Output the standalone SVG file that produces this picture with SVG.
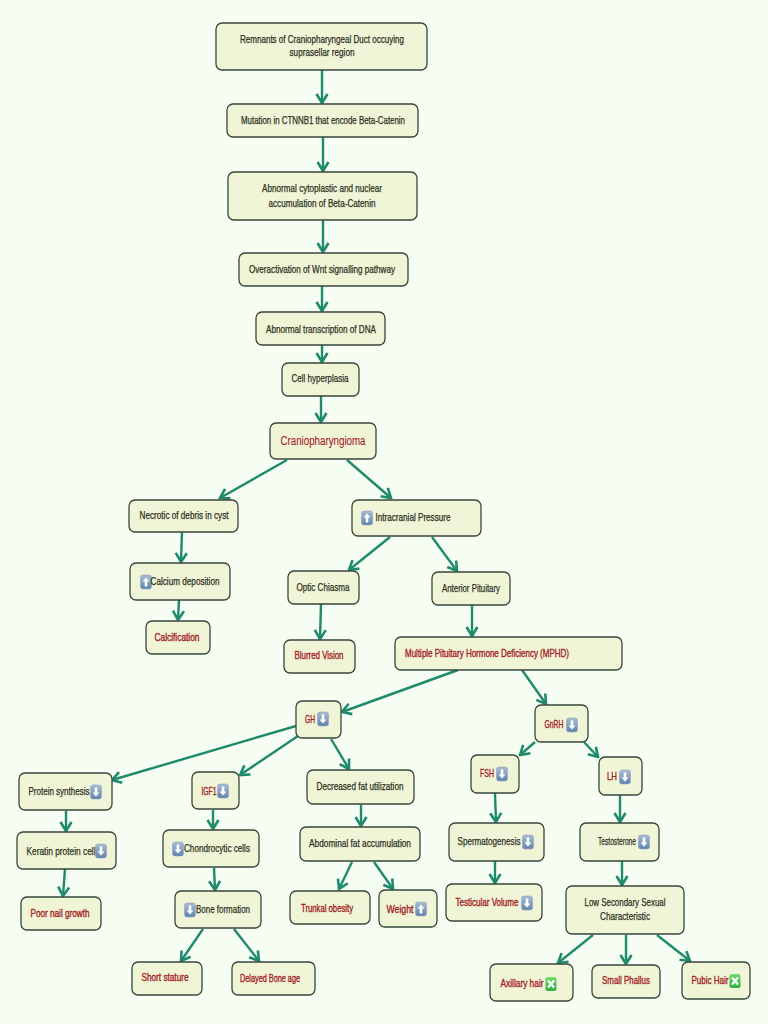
<svg xmlns="http://www.w3.org/2000/svg" width="768" height="1024" viewBox="0 0 768 1024">
<style>
.n{fill:#f1f5d8;stroke:#37473a;stroke-width:1.3}
.t{font-family:"Liberation Sans",Arial,sans-serif;font-size:10.5px;fill:#2a2f20;text-anchor:middle;stroke:#2a2f20;stroke-width:.25}
.s{font-family:"Liberation Sans",Arial,sans-serif;font-size:10.5px;fill:#a3201f;text-anchor:middle;stroke:#a3201f;stroke-width:.35}
.c path{fill:none;stroke:#1f8a6c;stroke-width:2.4}
</style>
<defs>
<linearGradient id="bg" x1="0" y1="0" x2="0" y2="1"><stop offset="0" stop-color="#a9bdd6"/><stop offset="1" stop-color="#5f83ad"/></linearGradient>
<linearGradient id="gg" x1="0" y1="0" x2="0" y2="1"><stop offset="0" stop-color="#6fdc6f"/><stop offset="1" stop-color="#2fae3f"/></linearGradient>
<marker id="a" markerUnits="userSpaceOnUse" markerWidth="14" markerHeight="14" refX="12" refY="7" orient="auto" viewBox="0 0 14 14"><path d="M3 1.5L12 7L3 12.5" fill="none" stroke="#1f8a6c" stroke-width="2.6"/></marker>
<g id="up"><rect x="-5.5" y="-7" width="11" height="14" rx="2.5" fill="url(#bg)" stroke="#8fa3b8" stroke-width=".6"/><path d="M0-4.5L3.5-.5H1.3V4.5H-1.3V-.5H-3.5Z" fill="#fff"/></g>
<g id="dn"><rect x="-5.5" y="-7" width="11" height="14" rx="2.5" fill="url(#bg)" stroke="#8fa3b8" stroke-width=".6"/><path d="M0 4.5L3.5 .5H1.3V-4.5H-1.3V.5H-3.5Z" fill="#fff"/></g>
<g id="x"><rect x="-5.5" y="-7" width="11" height="14" rx="2.5" fill="url(#gg)"/><path d="M-3-3.5L3 3.5M3-3.5L-3 3.5" stroke="#fff" stroke-width="2.2"/></g>
</defs>
<rect width="768" height="1024" fill="#f6fdf2"/>
<g id="connectors" class="c">
<path marker-end="url(#a)" d="M322 70V103"/>
<path marker-end="url(#a)" d="M323 137V171"/>
<path marker-end="url(#a)" d="M323 220V252"/>
<path marker-end="url(#a)" d="M322 286V311"/>
<path marker-end="url(#a)" d="M322 345V362"/>
<path marker-end="url(#a)" d="M321 396V422"/>
<path marker-end="url(#a)" d="M287 460L220 498"/>
<path marker-end="url(#a)" d="M347 460L391 498"/>
<path marker-end="url(#a)" d="M182 532L181 562"/>
<path marker-end="url(#a)" d="M179 600L178 620"/>
<path marker-end="url(#a)" d="M390 537L349 570"/>
<path marker-end="url(#a)" d="M432 537L457 571"/>
<path marker-end="url(#a)" d="M321 604L320 639"/>
<path marker-end="url(#a)" d="M472 605V636"/>
<path marker-end="url(#a)" d="M458 670L342 712"/>
<path marker-end="url(#a)" d="M522 670L546 704"/>
<path marker-end="url(#a)" d="M296 726L112 780"/>
<path marker-end="url(#a)" d="M298 736L240 775"/>
<path marker-end="url(#a)" d="M331 739L349 769"/>
<path marker-end="url(#a)" d="M535 742L520 755"/>
<path marker-end="url(#a)" d="M584 742L598 757"/>
<path marker-end="url(#a)" d="M66 811V831"/>
<path marker-end="url(#a)" d="M213 810V829"/>
<path marker-end="url(#a)" d="M361 805V826"/>
<path marker-end="url(#a)" d="M495 793L496 822"/>
<path marker-end="url(#a)" d="M620 795V822"/>
<path marker-end="url(#a)" d="M65 869L63 896"/>
<path marker-end="url(#a)" d="M214 868L215 890"/>
<path marker-end="url(#a)" d="M352 862L339 889"/>
<path marker-end="url(#a)" d="M374 862L393 889"/>
<path marker-end="url(#a)" d="M495 861V883"/>
<path marker-end="url(#a)" d="M622 861V885"/>
<path marker-end="url(#a)" d="M203 929L181 961"/>
<path marker-end="url(#a)" d="M234 929L259 961"/>
<path marker-end="url(#a)" d="M593 935L558 963"/>
<path marker-end="url(#a)" d="M626 935V964"/>
<path marker-end="url(#a)" d="M657 935L690 961"/>
</g>
<g id="n1"><rect class="n" x="216" y="23" width="211" height="47" rx="6"/><text class="t" x="322" y="43" textLength="164" lengthAdjust="spacingAndGlyphs">Remnants of Craniopharyngeal Duct occuying</text><text class="t" x="322" y="56" textLength="65" lengthAdjust="spacingAndGlyphs">suprasellar region</text></g>
<g id="n2"><rect class="n" x="227" y="104" width="191" height="33" rx="6"/><text class="t" x="323" y="124" textLength="164" lengthAdjust="spacingAndGlyphs">Mutation in CTNNB1 that encode Beta-Catenin</text></g>
<g id="n3"><rect class="n" x="228" y="172" width="189" height="48" rx="6"/><text class="t" x="322" y="192" textLength="120" lengthAdjust="spacingAndGlyphs">Abnormal cytoplastic and nuclear</text><text class="t" x="322" y="207" textLength="107" lengthAdjust="spacingAndGlyphs">accumulation of Beta-Catenin</text></g>
<g id="n4"><rect class="n" x="239" y="253" width="169" height="33" rx="6"/><text class="t" x="322" y="273" textLength="146" lengthAdjust="spacingAndGlyphs">Overactivation of Wnt signalling pathway</text></g>
<g id="n5"><rect class="n" x="256" y="312" width="129" height="33" rx="6"/><text class="t" x="321" y="333" textLength="110" lengthAdjust="spacingAndGlyphs">Abnormal transcription of DNA</text></g>
<g id="n6"><rect class="n" x="282" y="363" width="77" height="33" rx="6"/><text class="t" x="320" y="382" textLength="57" lengthAdjust="spacingAndGlyphs">Cell hyperplasia</text></g>
<g id="n7"><rect class="n" x="270" y="423" width="106" height="36" rx="6"/><text class="s" style="stroke-width:.1;font-size:12.5px" x="323" y="445" textLength="85" lengthAdjust="spacingAndGlyphs">Craniopharyngioma</text></g>
<g id="n8"><rect class="n" x="129" y="500" width="109" height="32" rx="6"/><text class="t" x="184" y="519" textLength="89" lengthAdjust="spacingAndGlyphs">Necrotic of debris in cyst</text></g>
<g id="n9"><rect class="n" x="352" y="500" width="129" height="36" rx="6"/><use href="#up" x="367" y="518"/><text class="t" x="413" y="521" textLength="75" lengthAdjust="spacingAndGlyphs">Intracranial Pressure</text></g>
<g id="n10"><rect class="n" x="130" y="563" width="100" height="37" rx="6"/><use href="#up" x="146" y="582"/><text class="t" x="185" y="585" textLength="69" lengthAdjust="spacingAndGlyphs">Calcium deposition</text></g>
<g id="n11"><rect class="n" x="146" y="621" width="64" height="33" rx="6"/><text class="s" x="177" y="641" textLength="45" lengthAdjust="spacingAndGlyphs">Calcification</text></g>
<g id="n12"><rect class="n" x="288" y="571" width="71" height="33" rx="6"/><text class="t" x="323" y="591" textLength="53" lengthAdjust="spacingAndGlyphs">Optic Chiasma</text></g>
<g id="n13"><rect class="n" x="432" y="572" width="78" height="33" rx="6"/><text class="t" x="471" y="592" textLength="58" lengthAdjust="spacingAndGlyphs">Anterior Pituitary</text></g>
<g id="n14"><rect class="n" x="284" y="640" width="71" height="33" rx="6"/><text class="s" x="319" y="659" textLength="49" lengthAdjust="spacingAndGlyphs">Blurred Vision</text></g>
<g id="n15"><rect class="n" x="395" y="637" width="227" height="33" rx="6"/><text class="s" x="487" y="657" textLength="164" lengthAdjust="spacingAndGlyphs">Multiple Pituitary Hormone Deficiency (MPHD)</text></g>
<g id="n16"><rect class="n" x="296" y="701" width="45" height="37" rx="6"/><text class="s" x="310" y="723" textLength="10" lengthAdjust="spacingAndGlyphs">GH</text><use href="#dn" x="323" y="719"/></g>
<g id="n17"><rect class="n" x="535" y="705" width="53" height="37" rx="6"/><text class="s" x="554" y="728" textLength="19" lengthAdjust="spacingAndGlyphs">GnRH</text><use href="#dn" x="572" y="725"/></g>
<g id="n18"><rect class="n" x="19" y="773" width="93" height="37" rx="6"/><text class="t" x="59" y="795" textLength="61" lengthAdjust="spacingAndGlyphs">Protein synthesis</text><use href="#dn" x="96" y="792"/></g>
<g id="n19"><rect class="n" x="192" y="772" width="47" height="37" rx="6"/><text class="s" x="209" y="795" textLength="15" lengthAdjust="spacingAndGlyphs">IGF1</text><use href="#dn" x="223" y="791"/></g>
<g id="n20"><rect class="n" x="307" y="770" width="107" height="34" rx="6"/><text class="t" x="360" y="790" textLength="87" lengthAdjust="spacingAndGlyphs">Decreased fat utilization</text></g>
<g id="n21"><rect class="n" x="471" y="755" width="48" height="38" rx="6"/><text class="s" x="487" y="777" textLength="14" lengthAdjust="spacingAndGlyphs">FSH</text><use href="#dn" x="502" y="774"/></g>
<g id="n22"><rect class="n" x="599" y="757" width="43" height="38" rx="6"/><text class="s" x="612" y="780" textLength="10" lengthAdjust="spacingAndGlyphs">LH</text><use href="#dn" x="625" y="777"/></g>
<g id="n23"><rect class="n" x="17" y="832" width="99" height="37" rx="6"/><text class="t" x="61" y="855" textLength="69" lengthAdjust="spacingAndGlyphs">Keratin protein cell</text><use href="#dn" x="101" y="851"/></g>
<g id="n24"><rect class="n" x="163" y="830" width="96" height="37" rx="6"/><use href="#dn" x="178" y="849"/><text class="t" x="217" y="852" textLength="66" lengthAdjust="spacingAndGlyphs">Chondrocytic cells</text></g>
<g id="n25"><rect class="n" x="300" y="827" width="120" height="34" rx="6"/><text class="t" x="360" y="847" textLength="102" lengthAdjust="spacingAndGlyphs">Abdominal fat accumulation</text></g>
<g id="n26"><rect class="n" x="449" y="823" width="95" height="38" rx="6"/><text class="t" x="489" y="845" textLength="63" lengthAdjust="spacingAndGlyphs">Spermatogenesis</text><use href="#dn" x="528" y="842"/></g>
<g id="n27"><rect class="n" x="580" y="823" width="79" height="38" rx="6"/><text class="t" x="617" y="845" textLength="38" lengthAdjust="spacingAndGlyphs">Testosterone</text><use href="#dn" x="644" y="842"/></g>
<g id="n28"><rect class="n" x="21" y="897" width="80" height="33" rx="6"/><text class="s" x="60" y="917" textLength="59" lengthAdjust="spacingAndGlyphs">Poor nail growth</text></g>
<g id="n29"><rect class="n" x="175" y="891" width="86" height="37" rx="6"/><use href="#dn" x="190" y="910"/><text class="t" x="223" y="913" textLength="54" lengthAdjust="spacingAndGlyphs">Bone formation</text></g>
<g id="n30"><rect class="n" x="290" y="891" width="80" height="33" rx="6"/><text class="s" x="327" y="912" textLength="52" lengthAdjust="spacingAndGlyphs">Trunkal obesity</text></g>
<g id="n31"><rect class="n" x="379" y="890" width="58" height="37" rx="6"/><text class="s" x="400" y="913" textLength="27" lengthAdjust="spacingAndGlyphs">Weight</text><use href="#up" x="421" y="909"/></g>
<g id="n32"><rect class="n" x="446" y="884" width="96" height="37" rx="6"/><text class="s" x="487" y="906" textLength="63" lengthAdjust="spacingAndGlyphs">Testicular Volume</text><use href="#dn" x="527" y="903"/></g>
<g id="n33"><rect class="n" x="566" y="886" width="118" height="48" rx="6"/><text class="t" x="625" y="906" textLength="81" lengthAdjust="spacingAndGlyphs">Low Secondary Sexual</text><text class="t" x="625" y="920" textLength="50" lengthAdjust="spacingAndGlyphs">Characteristic</text></g>
<g id="n34"><rect class="n" x="132" y="962" width="70" height="33" rx="6"/><text class="s" x="165" y="981" textLength="47" lengthAdjust="spacingAndGlyphs">Short stature</text></g>
<g id="n35"><rect class="n" x="232" y="962" width="83" height="33" rx="6"/><text class="s" x="270" y="982" textLength="60" lengthAdjust="spacingAndGlyphs">Delayed Bone age</text></g>
<g id="n36"><rect class="n" x="490" y="964" width="83" height="37" rx="6"/><text class="s" x="522" y="987" textLength="43" lengthAdjust="spacingAndGlyphs">Axillary hair</text><use href="#x" x="551" y="984"/></g>
<g id="n37"><rect class="n" x="592" y="965" width="68" height="33" rx="6"/><text class="s" x="626" y="984" textLength="48" lengthAdjust="spacingAndGlyphs">Small Phallus</text></g>
<g id="n38"><rect class="n" x="682" y="962" width="68" height="37" rx="6"/><text class="s" x="710" y="984" textLength="37" lengthAdjust="spacingAndGlyphs">Pubic Hair</text><use href="#x" x="735" y="981"/></g>
</svg>
